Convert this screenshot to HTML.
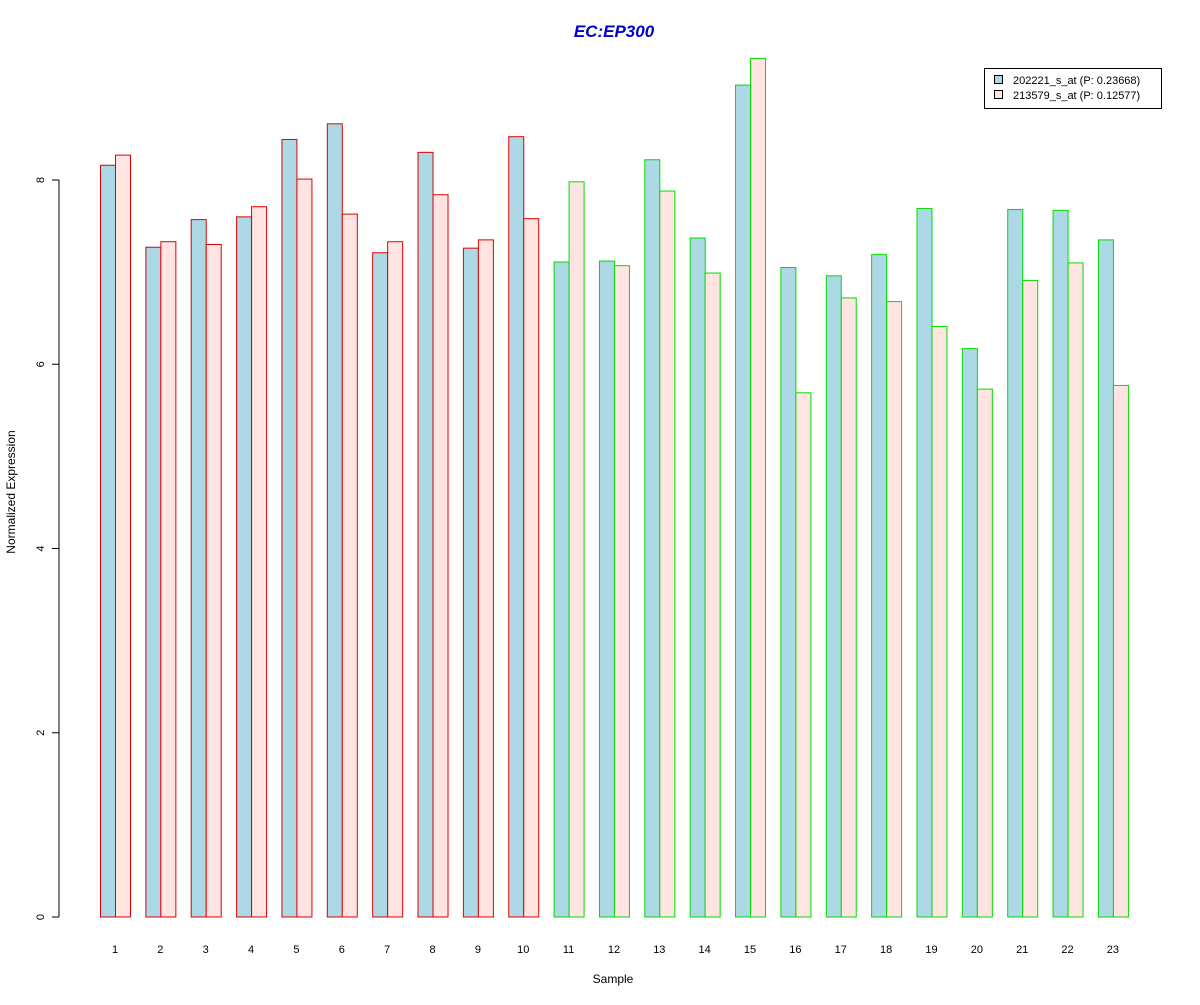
<!DOCTYPE html>
<html><head><meta charset="utf-8"><style>
body{margin:0;background:#fff;}
svg text{font-family:"Liberation Sans",Arial,sans-serif;}
</style></head><body>
<svg id="chart" width="1200" height="1000" xmlns="http://www.w3.org/2000/svg">
<rect width="1200" height="1000" fill="#fff"/>
<text x="614" y="37" text-anchor="middle" font-size="17" font-weight="bold" font-style="italic" fill="#0000cc">EC:EP300</text>
<text x="613" y="983" text-anchor="middle" font-size="12">Sample</text>
<text transform="translate(15,492) rotate(-90)" text-anchor="middle" font-size="12">Normalized Expression</text>
<line x1="59" y1="180" x2="59" y2="917" stroke="#000"/>
<g id="bars"></g>
<g id="yticks"></g>
<g id="xlabels"></g>
<g>
<rect x="984.5" y="68.5" width="177" height="40" fill="#fff" stroke="#000"/>
<rect x="994.5" y="75.5" width="8" height="8" fill="#ADD8E6" stroke="#000"/>
<text x="1013" y="84" font-size="11">202221_s_at (P: 0.23668)</text>
<rect x="994.5" y="90.5" width="8" height="8" fill="#FFE4E1" stroke="#000"/>
<text x="1013" y="99" font-size="11">213579_s_at (P: 0.12577)</text>
</g>
</svg>
<script>
const samples=["1","2","3","4","5","6","7","8","9","10","11","12","13","14","15","16","17","18","19","20","21","22","23"];
const series1=[8.16,7.27,7.57,7.60,8.44,8.61,7.21,8.30,7.26,8.47,7.11,7.12,8.22,7.37,9.03,7.05,6.96,7.19,7.69,6.17,7.68,7.67,7.35];
const series2=[8.27,7.33,7.30,7.71,8.01,7.63,7.33,7.84,7.35,7.58,7.98,7.07,7.88,6.99,9.32,5.69,6.72,6.68,6.41,5.73,6.91,7.10,5.77];
const groups=["red","red","red","red","red","red","red","red","red","red","green","green","green","green","green","green","green","green","green","green","green","green","green"];
const yTicks=[0,2,4,6,8];
const NS="http://www.w3.org/2000/svg";
const y=v=>917-v*92.125;
const x=i=>100+i*45.36;
const bars=document.getElementById('bars');
function mk(tag,attrs,parent){const e=document.createElementNS(NS,tag);for(const k in attrs)e.setAttribute(k,attrs[k]);parent.appendChild(e);return e;}
samples.forEach((s,i)=>{
  const stroke=groups[i]==="red"?"#e00000":"#00dd00";
  const b1=mk('rect',{x:x(i)+0.5,y:y(series1[i]),width:15,height:917-y(series1[i]),fill:'#ADD8E6',stroke:stroke},bars);
  
  
  const b2=mk('rect',{x:x(i)+15.5,y:y(series2[i]),width:15,height:917-y(series2[i]),fill:'#FFE4E1',stroke:stroke},bars);
  
  
  const t=mk('text',{x:x(i)+15,y:953,'text-anchor':'middle','font-size':'11'},document.getElementById('xlabels'));
  t.textContent=s;
  
  
});
const yt=document.getElementById('yticks');
yTicks.forEach(v=>{
  const l=mk('line',{x1:52,x2:59,y1:y(v),y2:y(v),stroke:'#000'},yt);
  
  
  const t=mk('text',{transform:`translate(44,${y(v)}) rotate(-90)`,'text-anchor':'middle','font-size':'11'},yt);
  t.textContent=v;
  
  
});
</script>
</body></html>
